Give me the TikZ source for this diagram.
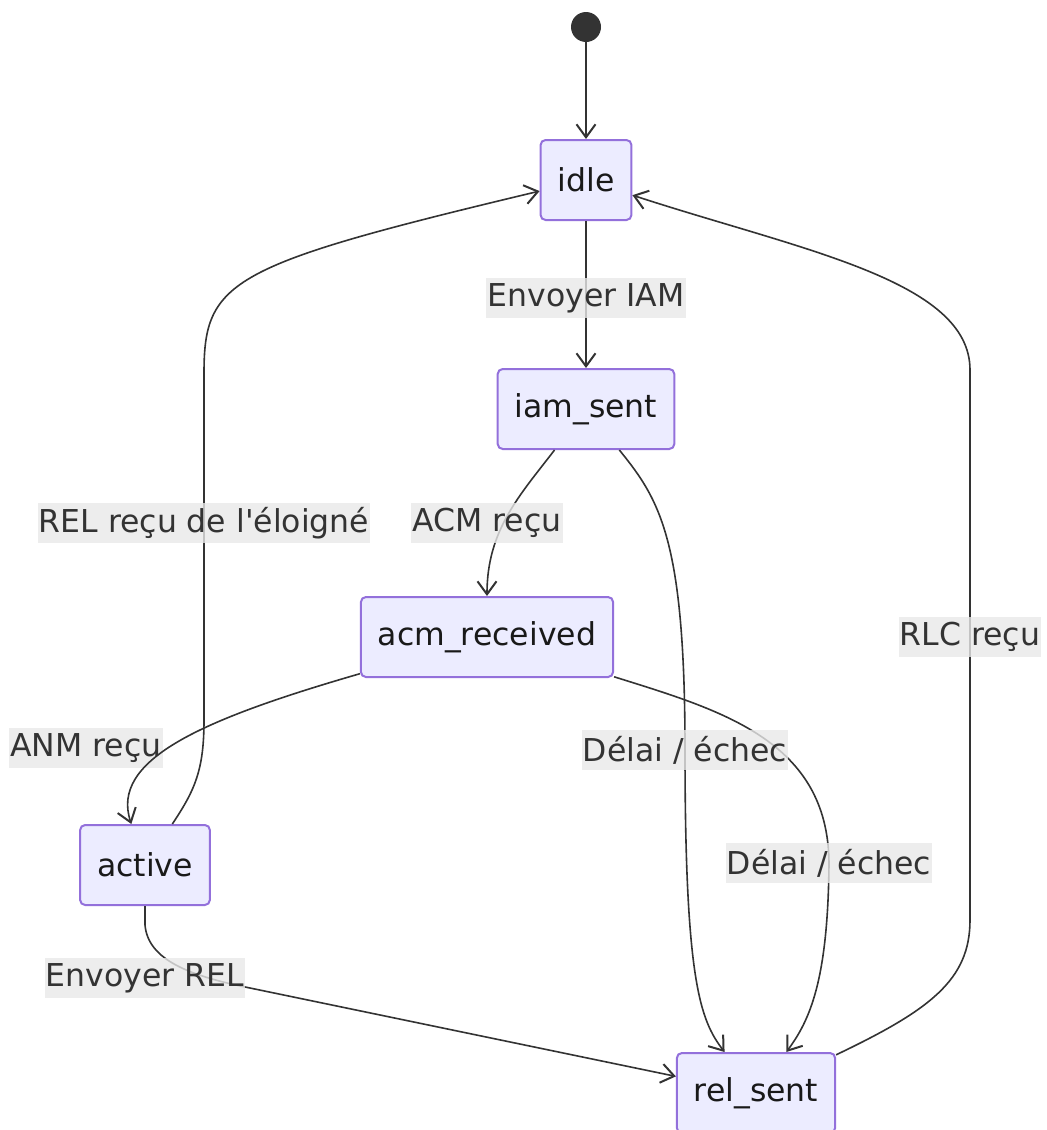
\documentclass[tikz,border=0pt]{standalone}
\usepackage{fontspec}
\setmainfont{DejaVu Sans}[Ligatures=TeXOff]
\usetikzlibrary{arrows.meta}

\definecolor{stateFill}{HTML}{ECECFF}
\definecolor{stateLine}{HTML}{9370DB}
\definecolor{edgeLine}{HTML}{333333}
\definecolor{labelFill}{HTML}{E8E8E8}
\definecolor{textCol}{HTML}{333333}

\begin{document}
\begin{tikzpicture}[
    x=0.5pt, y=-0.5pt,
    every node/.style={font=\fontsize{15.75}{19}\selectfont, text=textCol},
    state/.style={draw=stateLine, fill=stateFill, line width=1pt, rounded corners=2.5pt, minimum height=40pt, inner xsep=8.5pt, text=black!90},
    trans/.style={draw=edgeLine, line width=0.8pt, -{Straight Barb[length=6.5pt, width=9.5pt, line width=1pt]}},
    lbl/.style={fill=labelFill, fill opacity=0.8, text opacity=1, inner xsep=0.6pt, inner ysep=0pt, minimum height=20pt}
    ]

    \useasboundingbox (0,0) rectangle (1047,1130);

    \node[circle, fill=edgeLine, inner sep=0pt, minimum size=15pt] (start) at (586, 27) {};
    \node[state] (idle) at (586, 180) {idle};
    \node[state] (iam) at (586, 409) {iam\_sent};
    \node[state] (acm) at (487, 637) {acm\_received};
    \node[state] (active) at (145, 865) {active};
    \node[state] (rel) at (756, 1093) {rel\_sent};

    % label spots
    \coordinate (lIAM) at (586, 298);
    \coordinate (lACM) at (487, 523);
    \coordinate (lREL) at (204, 523);
    \coordinate (lRLC) at (970, 637);
    \coordinate (lANM) at (86, 748);
    \coordinate (lD1) at (685, 750);
    \coordinate (lD2) at (829, 863);
    \coordinate (lEREL) at (145, 978);

    \draw[trans] (start) -- (idle);
    \draw[trans] (idle) -- (lIAM) -- (iam);
    \draw[trans] (iam) .. controls (520, 495) and (487, 530) .. (acm);
    \draw[trans] (iam) .. controls (660, 500) and (685, 540) .. (lD1) .. controls (685, 980) and (700, 1020) .. (rel);
    \draw[trans] (active) .. controls (195, 790) and (204, 770) .. (204, 720) -- (lREL) -- (204, 373) .. controls (204, 280) and (230, 265) .. (idle);
    \draw[trans] (active) -- (145, 925) .. controls (148, 960) and (190, 976) .. (250, 988) -- (rel);
    \draw[trans] (acm) .. controls (720, 710) and (828, 740) .. (lD2) .. controls (828, 980) and (810, 1020) .. (rel);
    \draw[trans] (rel) .. controls (930, 1010) and (970, 980) .. (970, 920) -- (lRLC) -- (970, 370) .. controls (970, 280) and (800, 250) .. (idle);

    \node[lbl] at (lIAM) {Envoyer IAM};
    \node[lbl] at (lACM) {ACM reçu};
    \node[lbl] at (lREL) {REL reçu de l'éloigné};
    \node[lbl] at (lRLC) {RLC reçu};
    \node[lbl] at (lANM) {ANM reçu};
    \node[lbl] at (lD1) {Délai / échec};
    \node[lbl] at (lD2) {Délai / échec};
    \node[lbl] at (lEREL) {Envoyer REL};

    \draw[trans] (acm) .. controls (200, 720) and (110, 760) .. (active);

\end{tikzpicture}
\end{document}
